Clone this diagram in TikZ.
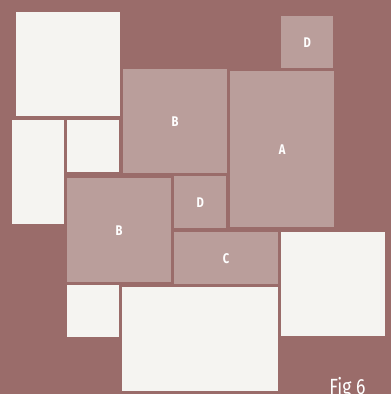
\documentclass[tikz,border=0pt]{standalone}
\usepackage{fontspec}
\setmainfont{Fira Sans}[FakeStretch=0.8]
\definecolor{figbg}{RGB}{154,108,106}
\definecolor{figtile}{RGB}{186,158,155}
\definecolor{figpaper}{RGB}{245,244,241}
\usetikzlibrary{positioning}

\begin{document}
\begin{tikzpicture}[x=1pt, y=-1pt,
  paper/.style={fill=figpaper, anchor=north west, inner sep=0pt},
  tile/.style={fill=figtile, anchor=north west, inner sep=0pt, text=white, font=\fontsize{14}{14}\selectfont\bfseries}]
  % background
  \fill[figbg] (0,0) rectangle (391,394);
  \useasboundingbox (0,0) rectangle (391,394);

  % white sheets
  \node[paper, minimum width=104pt, minimum height=104pt] (p1) at (16,12) {};
  \node[paper, minimum width=52pt, minimum height=104pt] (p2) at (12,120) {};
  \node[paper, minimum width=52pt, minimum height=52pt] (p3) at (67,120) {};
  \node[paper, minimum width=52pt, minimum height=52pt] (p4) at (67,285) {};
  \node[paper, minimum width=156pt, minimum height=104pt] (p5) at (122,287) {};
  \node[paper, minimum width=104pt, minimum height=104pt] (p6) at (281,232) {};

  % lettered tiles
  \node[tile, minimum width=104pt, minimum height=104pt] (tB1) at (123,69) {B};
  \node[tile, minimum width=104pt, minimum height=156pt] (tA) at (230,71) {A};
  \node[tile, minimum width=52pt, minimum height=52pt] (tD1) at (281,16) {D};
  \node[tile, minimum width=52pt, minimum height=52pt] (tD2) at (174,176) {D};
  \node[tile, minimum width=104pt, minimum height=104pt] (tB2) at (67,178) {B};
  \node[tile, minimum width=104pt, minimum height=52pt] (tC) at (174,232) {C};

  % caption
  \node[anchor=base, inner sep=0pt, text=white, font=\fontsize{22}{24}\selectfont] (cap) at (347.5,394) {Fig 6};
\end{tikzpicture}
\end{document}
